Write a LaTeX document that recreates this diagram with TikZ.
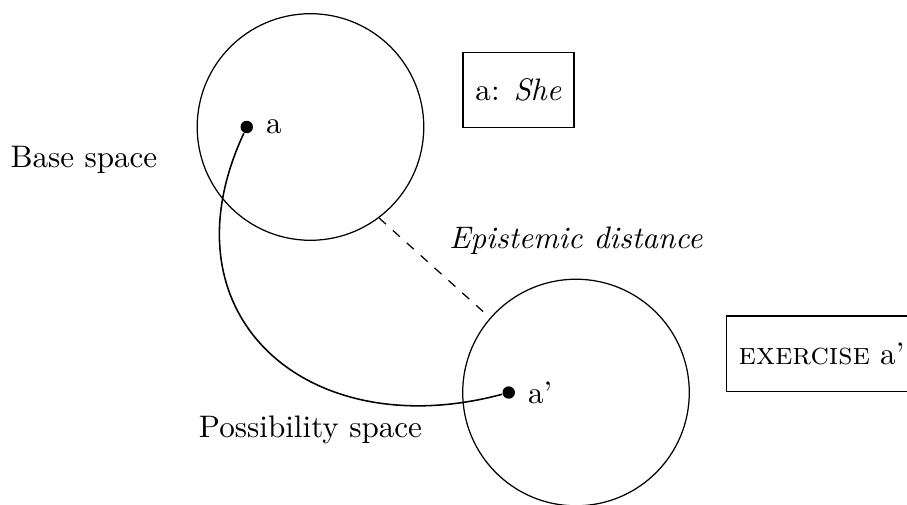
\documentclass[tikz,border=0pt]{standalone}
\usetikzlibrary{positioning}
\begin{document}
\begin{tikzpicture}[
    space/.style={draw, circle, minimum size=2.56cm, inner sep=0pt},
    dot/.style={circle, fill=black, minimum size=4pt, inner sep=0pt},
    box/.style={draw, minimum height=0.85cm, inner xsep=4pt},
    link/.style={line width=0.5pt}
]
    \useasboundingbox (-3.508,-4.26) rectangle (6.74,1.435);
    \node[space] (base) at (0, 0) {};
    \node[space] (poss) at (3, -3) {};

    \node[dot] (a) at (-0.72, 0) {};
    \node[right=0.5pt of a] (alab) {a};
    \node[dot] (ap) at (2.24, -3) {};
    \node[right=0.5pt of ap] (aplab) {a'};

    \node (baselab) at (-2.56, -0.37) {Base space};
    \node (posslab) at (0, -3.42) {Possibility space};
    \node (dist) at (3, -1.28) {\textit{Epistemic distance}};

    \node[box] (she) at (2.35, 0.42) {a: \textit{She}};
    \node[box, anchor=west] (ex) at (4.69, -2.56) {\textsc{exercise} a'};

    \draw[link] (a) to[out=-115, in=195, looseness=1.4] (ap);
    \draw[dashed] (base.-53) -- (poss.139);
\end{tikzpicture}
\end{document}
